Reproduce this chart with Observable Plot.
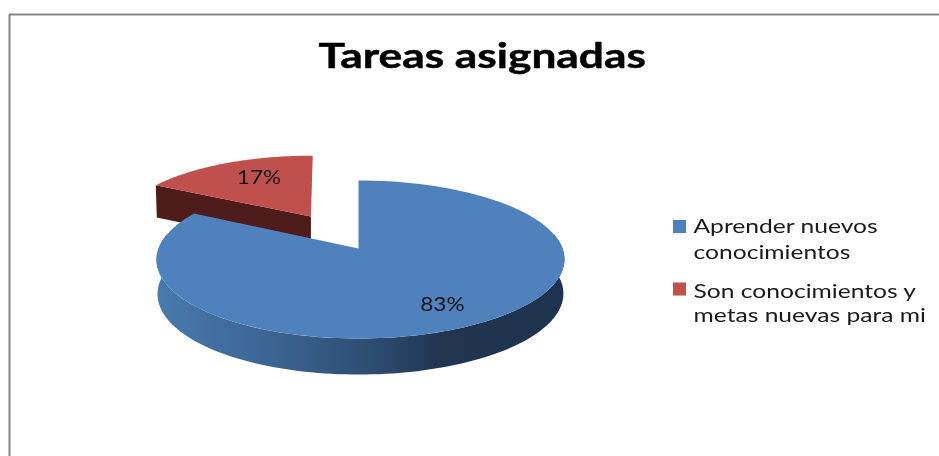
<!DOCTYPE html>
<html>
<head>
<meta charset="utf-8">
<script src="https://cdn.jsdelivr.net/npm/d3@7"></script>
<script src="https://cdn.jsdelivr.net/npm/@observablehq/plot@0.6"></script>
<style>html,body{margin:0;padding:0;background:#fff}svg{display:block}svg text{filter:blur(0.35px)}</style>
</head>
<body>
<div id="chart"></div>
<script>
const title = "Tareas asignadas";
const categories = ["Aprender nuevos conocimientos", "Son conocimientos y metas nuevas para mi"];
const shares = [83, 17];
const labels = ["83%", "17%"];
const colors = ["#4f81bd", "#bf504d"];
const legendLines = [["Aprender nuevos", "conocimientos"], ["Son conocimientos y", "metas nuevas para mi"]];

// perspective view of a tilted disc
const cx = 358, cy = 248, rx = 202, ry = 77.5, persp = -0.139, depth = 34, explode = 0.508, inset = 0.995;
const project = (u, v, r = rx) => {
  const d = 1 + persp * v;
  return {x: cx + 2 * u * u + r * u / d, y: cy + ry * v / d};
};
const disc = (a, f = 1) => [f * Math.sin(a), -f * Math.cos(a)];
const lower = (p, v) => ({x: cx + 2 + (p.x - cx - 2) * inset, y: p.y + depth * (1 + 0.06 * v)});
const arcs = d3.pie().sort(null)(shares);
const arcAngles = (a0, a1) => d3.range(0, 121).map(i => a0 + (a1 - a0) * i / 120);

const [blue, red] = arcs;
const offset = disc((red.startAngle + red.endAngle) / 2, explode);
const apexB = project(0, 0);
const faceB = [apexB, ...arcAngles(blue.startAngle, blue.endAngle).map(a => project(...disc(a)))];
const off = ([u, v]) => [u + offset[0], v + offset[1]];
// the exploded slice sits slightly sheared in the picture
const projectRed = ([u, v]) => {
  const p = project(u, v, 204);
  return {x: p.x + (p.y - 185) * 0.065, y: p.y};
};
const apexR = projectRed(offset);
const rimR = arcAngles(red.startAngle, red.endAngle).map(a => projectRed(off(disc(a))));
const faceR = [apexR, ...rimR];

// outer wall of the large slice
const wallAngles = arcAngles(Math.PI * 0.44, Math.PI * 1.56);
const wallB = [
  ...wallAngles.map(a => project(...disc(a))),
  ...wallAngles.slice().reverse().map(a => { const [u, v] = disc(a); return lower(project(u, v), v); })
];
// radial wall of the small slice
const cornerUV = off(disc(red.startAngle));
const corner = projectRed(cornerUV);
const wallR = [corner, apexR, {x: apexR.x, y: lower(apexR, offset[1]).y}, {x: corner.x + 1, y: lower(corner, cornerUV[1]).y}];

const midB = (blue.startAngle + blue.endAngle) / 2, midR = (red.startAngle + red.endAngle) / 2;
const labelB = {...project(...disc(midB, 0.82)), t: labels[0]};
const labelR = {...project(...off(disc(midR, 0.71))), t: labels[1]};

const legendX = 693, swatchX = 679;
const legendText = [
  {x: legendX, y: 232, t: legendLines[0][0]},
  {x: legendX, y: 258, t: legendLines[0][1]},
  {x: legendX, y: 297, t: legendLines[1][0]},
  {x: legendX, y: 321, t: legendLines[1][1]}
];
const swatches = [{x: swatchX, y: 226, c: colors[0]}, {x: swatchX, y: 288.5, c: colors[1]}];

const defs = () => {
  const s = d3.create("svg:defs");
  const g = s.append("linearGradient").attr("id", "wallGrad").attr("x1", 0).attr("x2", 1).attr("y1", 0).attr("y2", 0);
  [[0, "#4a7aae"], [0.3, "#3a6390"], [0.55, "#2c4a6e"], [0.7, "#1f3550"], [1, "#1e334e"]]
    .forEach(([o, c]) => g.append("stop").attr("offset", o).attr("stop-color", c));
  return s.node();
};
const poly = (data, fill) => Plot.line(data, {x: "x", y: "y", fill, stroke: "none", curve: "linear-closed"});

const plot = Plot.plot({
  width: 939, height: 456, margin: 0,
  x: {domain: [0, 939], range: [0, 939], axis: null},
  y: {domain: [0, 456], range: [0, 456], axis: null},
  style: {background: "#fff"},
  marks: [
    defs,
    Plot.ruleY([14], {x1: 9, x2: 939, stroke: "#868686", strokeWidth: 2}),
    Plot.ruleX([9], {y1: 14, y2: 456, stroke: "#868686", strokeWidth: 2}),
    poly(wallR, "#4e1d1b"),
    poly(faceR, colors[1]),
    poly(wallB, "url(#wallGrad)"),
    poly(faceB, colors[0]),
    Plot.text([labelB], {x: "x", y: "y", text: "t", dx: -10, dy: -4, fontFamily: "Lato", fontSize: 18.5, fill: "#111", className: "pct"}),
    Plot.text([labelR], {x: "x", y: "y", text: "t", dx: 9, fontFamily: "Lato", fontSize: 18.5, fill: "#111", className: "pct"}),
    Plot.text([title], {x: () => 318, y: () => 67, text: d => d, textAnchor: "start", lineAnchor: "bottom", fontFamily: "Lato", fontWeight: 700, fontSize: 35, fill: "#000", stroke: "#000", strokeWidth: 0.5, className: "ttl"}),
    Plot.dot(swatches, {x: "x", y: "y", fill: "c", r: 7.4, symbol: "square"}),
    Plot.text(legendText, {x: "x", y: "y", text: "t", textAnchor: "start", lineAnchor: "bottom", fontFamily: "Lato", fontSize: 18.5, fill: "#1a1a1a", className: "leg"})
  ]
});
document.getElementById("chart").append(plot);
const stretch = (cls, k) => plot.querySelectorAll(`.${cls} text`).forEach(t => {
  t.setAttribute("textLength", t.getComputedTextLength() * k);
  t.setAttribute("lengthAdjust", "spacingAndGlyphs");
});
stretch("ttl", 1.265);
stretch("leg", 1.33);
stretch("pct", 1.22);
</script>
</body>
</html>
